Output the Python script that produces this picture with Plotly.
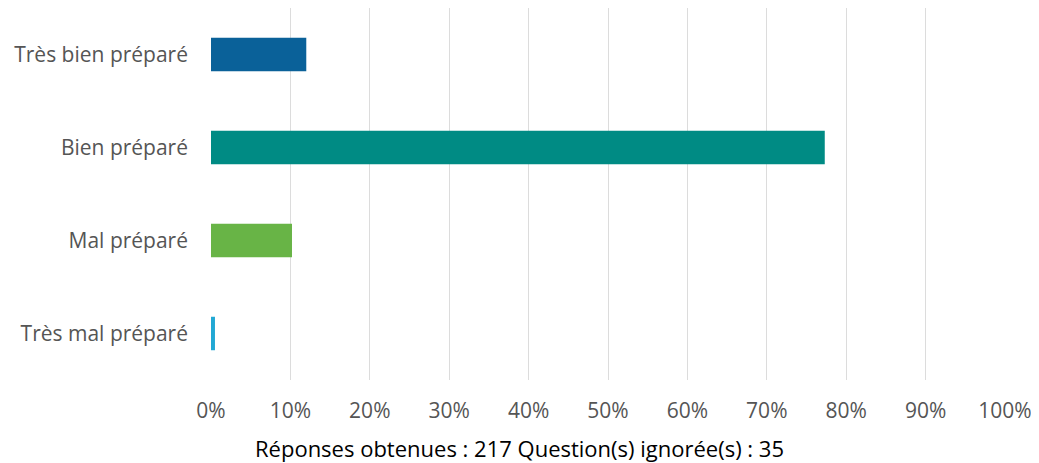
import plotly.graph_objects as go

categories = ["Très bien préparé", "Bien préparé", "Mal préparé", "Très mal préparé"]
values = [0.12, 0.773, 0.102, 0.005]
colors = ["#0a6199", "#008b84", "#68b446", "#22a8d4"]
tick_vals = [i / 10 for i in range(11)]
tick_text = [f"{i*10}%" for i in range(11)]
x_title = "Réponses obtenues : 217 Question(s) ignorée(s) : 35"

fig = go.Figure(go.Bar(
    y=categories, x=values, orientation="h",
    marker=dict(color=colors, line=dict(width=0)),
    width=0.36,
))

fig.update_layout(
    width=1031, height=455,
    margin=dict(l=203, r=34, t=0, b=83),
    plot_bgcolor="white", paper_bgcolor="white",
    showlegend=False,
    xaxis=dict(range=[0, 1], tickvals=tick_vals, ticktext=tick_text,
               showgrid=True, gridcolor="#dcdcdc", gridwidth=1,
               zeroline=False, showline=False,
               tickfont=dict(family="Open Sans", size=21, color="#555555"),
               ticklabelstandoff=16, fixedrange=True, automargin=False),
    yaxis=dict(categoryorder="array", categoryarray=categories[::-1],
               showgrid=False, zeroline=False, showline=False,
               tickfont=dict(family="Open Sans", size=21, color="#555555"),
               ticklabelstandoff=22, automargin=False),
    annotations=[dict(text=x_title, xref="paper", yref="paper", x=0.389, y=-0.183,
                      xanchor="center", yanchor="middle", showarrow=False,
                      font=dict(family="Open Sans", size=22, color="#000000"))],
)

fig.write_html("out.html")
